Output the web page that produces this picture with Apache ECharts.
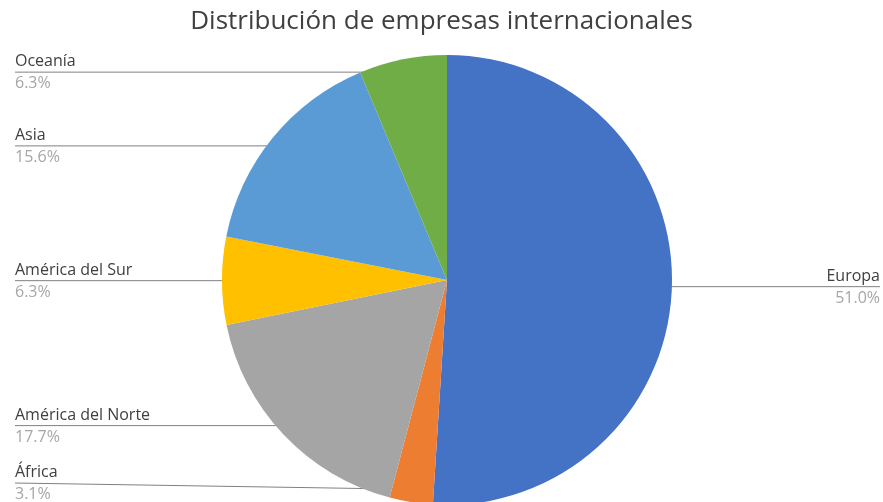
<!DOCTYPE html>
<html><head><meta charset="utf-8">
<script src="https://cdn.jsdelivr.net/npm/echarts@6/dist/echarts.min.js"></script>
<style>html,body{margin:0;padding:0;background:#fff}#c{width:883px;height:502px}</style>
</head><body><div id="c"></div>
<script>
const titleText = 'Distribución de empresas internacionales';
const categories = ['Europa', 'África', 'América del Norte', 'América del Sur', 'Asia', 'Oceanía'];
const values = [51.0, 3.1, 17.7, 6.3, 15.6, 6.3];
const colors = ['#4472C4', '#ED7D31', '#A5A5A5', '#FFC000', '#5B9BD5', '#70AD47'];

const W = 883, H = 502;
const CX = 447, CY = 280, R = 225;
const DOT_RX = 218, DOT_RY = 212;
const FONT = 'Open Sans';

const total = values.reduce((a, b) => a + b, 0);
function midAngle(i) {
  let cum = 0;
  for (let k = 0; k < i; k++) cum += values[k];
  return (cum + values[i] / 2) / total * Math.PI * 2;
}

const chart = echarts.init(document.getElementById('c'), null, {renderer: 'canvas'});
chart.setOption({
  animation: false,
  title: {text: titleText, left: 'center', top: 4,
    textStyle: {fontFamily: FONT, fontSize: 26, fontWeight: 'normal', color: '#404040'}},
  series: [{
    type: 'pie',
    center: [CX, CY],
    radius: [0, R],
    startAngle: 90,
    clockwise: true,
    data: categories.map((n, i) => ({name: n, value: values[i], itemStyle: {color: colors[i]}})),
    itemStyle: {borderWidth: 0},
    label: {
      show: true, position: 'outside',
      formatter: p => '{n|' + p.name + '}\n{p|' + p.value.toFixed(1) + '%}',
      rich: {
        n: {fontFamily: FONT, fontSize: 16, color: '#404040', lineHeight: 23},
        p: {fontFamily: FONT, fontSize: 16, color: '#a6a6a6', lineHeight: 21}
      }
    },
    labelLine: {show: true, length: 10, length2: 10, lineStyle: {color: '#808080', width: 1}},
    labelLayout: function (params) {
      const a = midAngle(params.dataIndex);
      const sx = CX + Math.sin(a) * DOT_RX;
      const sy = CY - Math.cos(a) * DOT_RY;
      const isLeft = Math.sin(a) < 0;
      const ly = Math.min(sy, H - 19);
      const lx = isLeft ? 15 : W - 3;
      return {x: lx, y: ly, align: isLeft ? 'left' : 'right', verticalAlign: 'middle',
        labelLinePoints: [[sx, sy], [sx, sy], [lx, ly]]};
    }
  }]
});
</script></body></html>
